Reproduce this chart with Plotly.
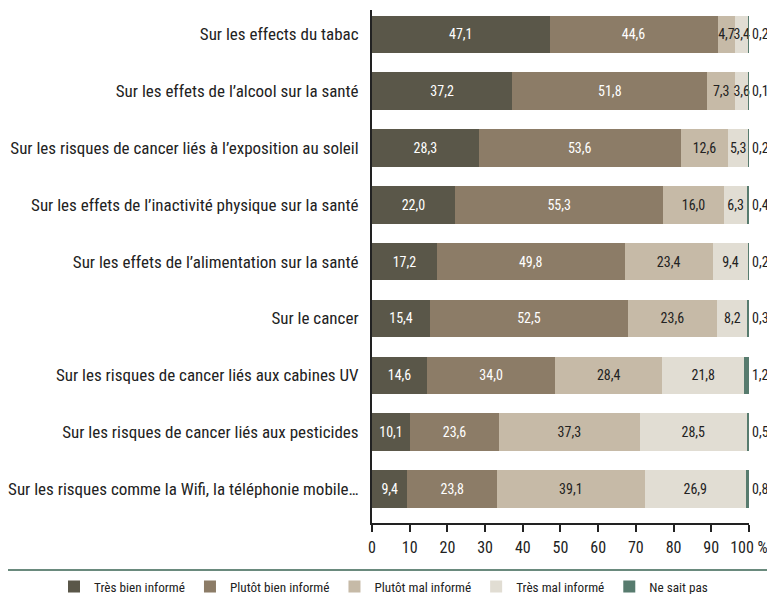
import plotly.graph_objects as go

categories = [
    "Sur les effects du tabac",
    "Sur les effets de l’alcool sur la santé",
    "Sur les risques de cancer liés à l’exposition au soleil",
    "Sur les effets de l’inactivité physique sur la santé",
    "Sur les effets de l’alimentation sur la santé",
    "Sur le cancer",
    "Sur les risques de cancer liés aux cabines UV",
    "Sur les risques de cancer liés aux pesticides",
    "Sur les risques comme la Wifi, la téléphonie mobile…",
]

series_names = ["Très bien informé", "Plutôt bien informé", "Plutôt mal informé",
                "Très mal informé", "Ne sait pas"]

tres_bien = [47.1, 37.2, 28.3, 22.0, 17.2, 15.4, 14.6, 10.1, 9.4]
plutot_bien = [44.6, 51.8, 53.6, 55.3, 49.8, 52.5, 34.0, 23.6, 23.8]
plutot_mal = [4.7, 7.3, 12.6, 16.0, 23.4, 23.6, 28.4, 37.3, 39.1]
tres_mal = [3.4, 3.6, 5.3, 6.3, 9.4, 8.2, 21.8, 28.5, 26.9]
ne_sait_pas = [0.2, 0.1, 0.2, 0.4, 0.2, 0.3, 1.2, 0.5, 0.8]

x_tickvals = [0, 10, 20, 30, 40, 50, 60, 70, 80, 90, 100]
x_ticktext = ["0", "10", "20", "30", "40", "50", "60", "70", "80", "90", "100 %"]

colors = ["#5a5749", "#8c7c67", "#c6baa7", "#e1ddd3", "#577b6e"]
text_colors = ["#ffffff", "#ffffff", "#222222", "#222222", "#222222"]

FONT = "Roboto Condensed, Roboto, sans-serif"

# The page body has an 8px margin, so the figure is drawn 8px smaller
W, H = 767, 586
L, R, T, B = 364, 26, 2, 71
PW, PH = W - L - R, H - T - B


def fmt(v):
    return f"{v:.1f}".replace(".", ",")


fig = go.Figure()
all_series = [tres_bien, plutot_bien, plutot_mal, tres_mal, ne_sait_pas]
for i, (name, vals) in enumerate(zip(series_names, all_series)):
    fig.add_trace(go.Bar(
        y=categories,
        x=vals,
        name=name,
        orientation="h",
        marker=dict(color=colors[i], line=dict(width=0)),
        text=[fmt(v) for v in vals],
        textposition="outside" if i == 4 else "inside",
        insidetextanchor="middle",
        textangle=0,
        textfont=dict(family=FONT, size=14, color=text_colors[i]),
        outsidetextfont=dict(family=FONT, size=14, color="#222222"),
        cliponaxis=False,
        hoverinfo="skip",
    ))

fig.update_layout(
    barmode="stack",
    bargap=0.34,
    width=W,
    height=H,
    margin=dict(l=L, r=R, t=T, b=B, autoexpand=False),
    plot_bgcolor="white",
    paper_bgcolor="white",
    font=dict(family=FONT, size=15, color="#222222"),
    uniformtext=dict(mode="show", minsize=14),
    legend=dict(
        orientation="h",
        x=(46 - L) / PW, xanchor="left",
        y=-64 / PH, yanchor="middle",
        font=dict(family=FONT, size=13.2, color="#222222"),
        itemclick=False,
        itemdoubleclick=False,
        bgcolor="rgba(0,0,0,0)",
        traceorder="normal",
    ),
    showlegend=True,
)

fig.update_xaxes(
    range=[0, 100.02],
    tickvals=x_tickvals,
    ticktext=x_ticktext,
    showgrid=False,
    zeroline=False,
    showline=True,
    linecolor="#222222",
    linewidth=2,
    ticks="outside",
    ticklen=7,
    tickwidth=1.5,
    tickcolor="#222222",
    ticklabelstandoff=2,
    tickfont=dict(family=FONT, size=16, color="#222222"),
    automargin=False,
    fixedrange=True,
)

fig.update_yaxes(
    categoryorder="array",
    categoryarray=categories,
    range=[8.6, -0.43],
    showgrid=False,
    zeroline=False,
    showline=True,
    linecolor="#222222",
    linewidth=2,
    ticks="",
    ticklabelstandoff=8,
    tickfont=dict(family=FONT, size=17, color="#222222"),
    automargin=False,
    fixedrange=True,
)

fig.add_shape(
    type="line", xref="paper", yref="paper",
    x0=-L / PW, x1=(W - L) / PW,
    y0=-47 / PH, y1=-47 / PH,
    line=dict(color="#6a8a7d", width=2),
)

fig.write_html("out.html")
